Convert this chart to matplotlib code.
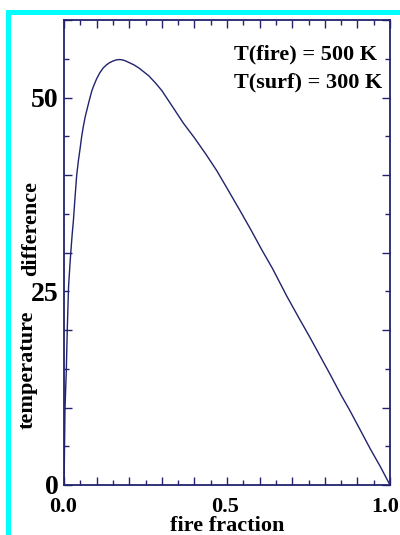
import matplotlib
matplotlib.use('Agg')
import matplotlib.pyplot as plt
import matplotlib.transforms as mtransforms
from matplotlib.ticker import MultipleLocator, FuncFormatter, NullFormatter
from matplotlib.patches import Rectangle

# values
fire_fraction = [0.0, 0.001, 0.003, 0.005, 0.007, 0.010, 0.014, 0.018, 0.021,
                 0.025, 0.029, 0.034, 0.039, 0.044, 0.049, 0.054, 0.059, 0.065,
                 0.072, 0.078, 0.085, 0.090, 0.100, 0.110, 0.120, 0.130, 0.140,
                 0.150, 0.160, 0.170, 0.180, 0.190, 0.200, 0.215, 0.230, 0.245,
                 0.260, 0.280, 0.300, 0.330, 0.366, 0.400, 0.435, 0.468, 0.500,
                 0.540, 0.575, 0.606, 0.640, 0.683, 0.720, 0.755, 0.790, 0.816,
                 0.850, 0.877, 0.910, 0.939, 0.970, 1.0]
temp_diff = [0.0, 2.8, 9.7, 12.3, 14.6, 20.0, 25.6, 28.3, 30.1,
             32.3, 34.2, 37.2, 40.0, 41.8, 43.3, 44.9, 46.2, 47.5,
             48.7, 49.7, 50.8, 51.4, 52.4, 53.2, 53.8, 54.2, 54.5,
             54.7, 54.85, 54.9, 54.85, 54.7, 54.5, 54.2, 53.8, 53.3,
             52.8, 51.9, 50.9, 49.0, 46.7, 44.8, 42.7, 40.6, 38.3,
             35.4, 32.8, 30.4, 27.9, 24.4, 21.6, 19.0, 16.3, 14.3,
             11.6, 9.6, 7.0, 4.7, 2.4, 0.0]
x_ticklabels = ['0.0', '0.5', '1.0']
x_tickvals = [0.0, 0.5, 1.0]
y_labels = {0: '0', 25: '25', 50: '50'}
notes = ['T(fire) = 500 K', 'T(surf) = 300 K']

navy = '#22226e'
serif = 'Liberation Serif'

fig = plt.figure(figsize=(4.0, 5.35), dpi=100)
fig.patch.set_facecolor('white')

# cyan frame on the left and top
fig.add_artist(Rectangle((6 / 400, 0), 5 / 400, 1 - 10 / 535,
                         transform=fig.transFigure, color='#00ffff', lw=0))
fig.add_artist(Rectangle((6 / 400, 1 - 15 / 535), 1, 5 / 535,
                         transform=fig.transFigure, color='#00ffff', lw=0))

ax = fig.add_axes([64 / 400, 1 - 485 / 535, 326 / 400, 465 / 535])
ax.plot(fire_fraction, temp_diff, color=navy, lw=1.0)
ax.set_xlim(0, 1.0)
ax.set_ylim(0, 60)

for s in ax.spines.values():
    s.set_color(navy)
    s.set_linewidth(1.3)

ax.xaxis.set_major_locator(MultipleLocator(0.1))
ax.xaxis.set_minor_locator(MultipleLocator(0.05))
ax.yaxis.set_major_locator(MultipleLocator(10))
ax.yaxis.set_minor_locator(MultipleLocator(5))

def yfmt(v, p):
    for k, t in y_labels.items():
        if abs(v - k) < 1e-6:
            return t
    return ''

ax.xaxis.set_major_formatter(NullFormatter())
ax.xaxis.set_minor_formatter(NullFormatter())
ax.yaxis.set_major_formatter(FuncFormatter(yfmt))
ax.yaxis.set_minor_formatter(FuncFormatter(yfmt))

ax.tick_params(which='both', direction='in', top=True, right=True,
               color=navy, width=1.0)
ax.tick_params(which='major', length=6)
ax.tick_params(which='minor', length=3.6)
ax.tick_params(axis='y', which='both', pad=4)
for lab in ax.get_yticklabels(which='both'):
    lab.set_fontfamily(serif)
    lab.set_fontweight('bold')
    lab.set_fontsize(20)

# x tick labels, nudged like the reference
shifts = [-1, -2, -5]
xb = mtransforms.blended_transform_factory(ax.transData, ax.transAxes)
for v, t, dx in zip(x_tickvals, x_ticklabels, shifts):
    tr = mtransforms.offset_copy(xb, fig=fig, x=dx, y=-27, units='dots')
    ax.text(v, 0, t, transform=tr, ha='center', va='baseline',
            fontfamily=serif, fontweight='bold', fontsize=16)

fig.text(227 / 400, 1 - 531 / 535, 'fire fraction', ha='center', va='baseline',
         fontfamily=serif, fontweight='bold', fontsize=16)

# y label split in two pieces around the "25"
fig.text(28 / 400, 1 - 370 / 535, 'temperature', rotation=90, ha='center',
         va='center', fontfamily=serif, fontweight='bold', fontsize=16)
fig.text(31 / 400, 1 - 228 / 535, 'difference', rotation=90, ha='center',
         va='center', fontfamily=serif, fontweight='bold', fontsize=16)

fig.text(377 / 400, 1 - 54 / 535, notes[0], ha='right', va='center',
         fontfamily=serif, fontweight='bold', fontsize=16)
fig.text(382 / 400, 1 - 82 / 535, notes[1], ha='right', va='center',
         fontfamily=serif, fontweight='bold', fontsize=16)

fig.savefig('out.png', dpi=100)
